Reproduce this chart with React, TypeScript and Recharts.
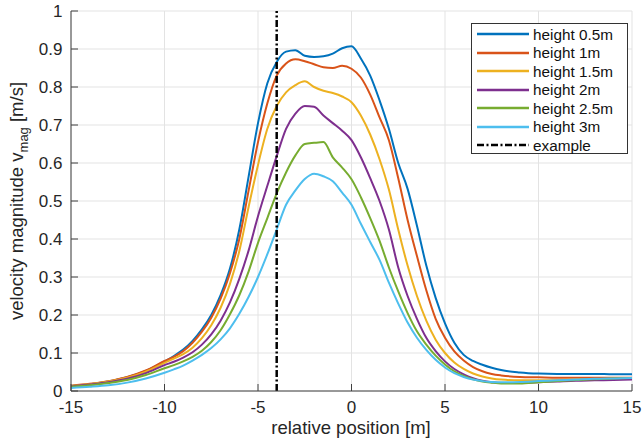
import { LineChart, Line, XAxis, YAxis, CartesianGrid, ReferenceLine, Legend } from "recharts"

const position = [
  -15, -14, -13, -12, -11, -10,
  -9.5, -9, -8.5, -8, -7.5, -7, -6.5, -6, -5.5, -5,
  -4.5, -4, -3.5, -3, -2.5, -2, -1.5, -1, -0.5, 0,
  0.5, 1, 1.5, 2, 2.5, 3, 3.5, 4, 4.5, 5,
  5.5, 6, 6.5, 7, 7.5, 8,
  9, 10, 11, 12, 13, 14, 15,
]

const height05 = [
  0.013, 0.018, 0.025, 0.036, 0.053, 0.078,
  0.092, 0.109, 0.132, 0.162, 0.2, 0.252, 0.322, 0.425, 0.565, 0.705,
  0.81, 0.866, 0.893, 0.897, 0.882, 0.879, 0.881, 0.888, 0.902, 0.907,
  0.875, 0.83, 0.765, 0.69, 0.6, 0.532, 0.435, 0.33, 0.245, 0.178,
  0.127, 0.095, 0.079, 0.069, 0.061, 0.055,
  0.049, 0.046, 0.045, 0.045, 0.045, 0.044, 0.044,
]

const height1 = [
  0.014, 0.019, 0.026, 0.037, 0.054, 0.079,
  0.09, 0.105, 0.127, 0.156, 0.193, 0.243, 0.31, 0.4, 0.528, 0.655,
  0.757, 0.83, 0.862, 0.873, 0.868, 0.86, 0.852, 0.85, 0.856, 0.848,
  0.825, 0.78, 0.72, 0.66, 0.56, 0.45, 0.355, 0.265, 0.19, 0.14,
  0.104, 0.08, 0.063, 0.052, 0.045, 0.041,
  0.037, 0.036, 0.035, 0.035, 0.035, 0.035, 0.035,
]

const height15 = [
  0.013, 0.018, 0.025, 0.035, 0.051, 0.074,
  0.085, 0.097, 0.114, 0.139, 0.173, 0.219, 0.282, 0.368, 0.485, 0.595,
  0.69, 0.75, 0.786, 0.805, 0.815, 0.8, 0.79, 0.784, 0.775, 0.76,
  0.725, 0.675, 0.61, 0.53, 0.425, 0.33, 0.25, 0.185, 0.135, 0.1,
  0.075, 0.058, 0.046, 0.038, 0.033, 0.03,
  0.028, 0.028, 0.029, 0.03, 0.031, 0.032, 0.032,
]

const height2 = [
  0.012, 0.017, 0.023, 0.032, 0.047, 0.068,
  0.077, 0.088, 0.102, 0.122, 0.149, 0.185, 0.233, 0.295, 0.37, 0.46,
  0.54, 0.618, 0.69, 0.73, 0.75, 0.748, 0.725, 0.705, 0.685, 0.66,
  0.615, 0.56, 0.5, 0.425, 0.325, 0.25, 0.19, 0.14, 0.105, 0.078,
  0.058, 0.044, 0.034, 0.027, 0.023, 0.021,
  0.021, 0.023, 0.025, 0.027, 0.028, 0.029, 0.03,
]

const height25 = [
  0.011, 0.015, 0.021, 0.029, 0.042, 0.06,
  0.068, 0.078, 0.09, 0.106, 0.129, 0.16, 0.202, 0.252, 0.315, 0.39,
  0.455, 0.52, 0.575, 0.62, 0.65, 0.653, 0.655, 0.615, 0.588, 0.557,
  0.51, 0.455, 0.395, 0.325, 0.262, 0.205, 0.157, 0.122, 0.093, 0.07,
  0.052, 0.04, 0.031, 0.025, 0.022, 0.02,
  0.02, 0.023, 0.026, 0.029, 0.031, 0.033, 0.034,
]

const height3 = [
  0.008, 0.011, 0.015, 0.022, 0.033, 0.048,
  0.057, 0.067, 0.08, 0.095, 0.113, 0.136, 0.165, 0.203, 0.248, 0.3,
  0.36, 0.425, 0.49, 0.528, 0.558, 0.572, 0.565, 0.552, 0.522, 0.49,
  0.44, 0.392, 0.345, 0.285, 0.23, 0.18, 0.14, 0.108, 0.082, 0.062,
  0.047, 0.037, 0.03, 0.026, 0.024, 0.023,
  0.024, 0.026, 0.028, 0.03, 0.032, 0.033, 0.034,
]

const seriesKeys = ["h05", "h1", "h15", "h2", "h25", "h3"]
const seriesNames = ["height 0.5m", "height 1m", "height 1.5m", "height 2m", "height 2.5m", "height 3m"]
const seriesColors = ["#0072BD", "#D95319", "#EDB120", "#7E2F8E", "#77AC30", "#4DBEEE"]
const seriesValues = [height05, height1, height15, height2, height25, height3]

const xTicks = [-15, -10, -5, 0, 5, 10, 15]
const yTicks = [0, 0.1, 0.2, 0.3, 0.4, 0.5, 0.6, 0.7, 0.8, 0.9, 1]
const examplePosition = -4

const data = position.map((x, i) => {
  const row: Record<string, number> = { x }
  seriesKeys.forEach((k, s) => {
    row[k] = seriesValues[s][i]
  })
  return row
})

const font = "'Liberation Sans', Arial, Helvetica, sans-serif"
const textColor = "#262626"
const axisColor = "#404040"

function VelocityLabel() {
  return (
    <text
      transform="translate(23, 201) rotate(-90)"
      textAnchor="middle"
      fontSize={18.5}
      fill={textColor}
      fontFamily={font}
    >
      velocity magnitude v
      <tspan dy={5} fontSize={13}>mag</tspan>
      <tspan dy={-5}> [m/s]</tspan>
    </text>
  )
}

function PositionLabel() {
  return (
    <text x={351} y={433.5} textAnchor="middle" fontSize={18.5} fill={textColor} fontFamily={font}>
      relative position [m]
    </text>
  )
}

function LegendBox() {
  const row = { height: 18.5, display: "flex", alignItems: "center" } as const
  return (
    <div
      style={{
        boxSizing: "border-box",
        width: 157,
        height: 131,
        border: "1px solid #333",
        background: "#fff",
        padding: "1px 0 0 5px",
        fontFamily: font,
        fontSize: 15.3,
        color: "#111",
        lineHeight: 1,
      }}
    >
      {seriesNames.map((name, i) => (
        <div key={name} style={row}>
          <svg width={52} height={4} style={{ display: "block" }}>
            <line x1={0} y1={2} x2={52} y2={2} stroke={seriesColors[i]} strokeWidth={2.5} />
          </svg>
          <span style={{ marginLeft: 4 }}>{name}</span>
        </div>
      ))}
      <div style={row}>
        <svg width={52} height={4} style={{ display: "block" }}>
          <line x1={0} y1={2} x2={52} y2={2} stroke="#000" strokeWidth={2.5} strokeDasharray="7 2.5 2 2.5" />
        </svg>
        <span style={{ marginLeft: 4 }}>example</span>
      </div>
    </div>
  )
}

export default function App() {
  return (
    <div style={{ position: "absolute", left: 0, top: 0, width: 643, height: 441, background: "#fff" }}>
      <LineChart width={643} height={441} data={data} margin={{ top: 11, right: 11, left: 0, bottom: 0 }}>
        <CartesianGrid stroke="#e3e3e3" />
        <XAxis
          dataKey="x"
          type="number"
          domain={[-15, 15]}
          ticks={xTicks}
          allowDataOverflow
          height={50}
          stroke={axisColor}
          tickSize={-7}
          tickMargin={16.5}
          tick={{ fill: textColor, fontSize: 17, fontFamily: font }}
          label={<PositionLabel />}
        />
        <XAxis
          xAxisId="top"
          dataKey="x"
          orientation="top"
          type="number"
          domain={[-15, 15]}
          ticks={xTicks}
          allowDataOverflow
          height={0}
          stroke={axisColor}
          tickSize={-7}
          tick={false}
        />
        <YAxis
          type="number"
          domain={[0, 1]}
          ticks={yTicks}
          allowDataOverflow
          width={71}
          stroke={axisColor}
          tickSize={-7}
          tickMargin={15.5}
          tick={{ fill: textColor, fontSize: 17, fontFamily: font }}
          label={<VelocityLabel />}
        />
        <YAxis
          yAxisId="right"
          orientation="right"
          type="number"
          domain={[0, 1]}
          ticks={yTicks}
          allowDataOverflow
          width={0}
          stroke={axisColor}
          tickSize={-7}
          tick={false}
        />
        {seriesKeys.map((k, i) => (
          <Line
            key={k}
            type="monotone"
            dataKey={k}
            name={seriesNames[i]}
            stroke={seriesColors[i]}
            strokeWidth={2}
            dot={false}
            isAnimationActive={false}
          />
        ))}
        <ReferenceLine x={examplePosition} stroke="#000" strokeWidth={2.5} strokeDasharray="7 2.5 2 2.5" />
        <Legend
          layout="vertical"
          align="center"
          verticalAlign="middle"
          content={() => <LegendBox />}
          wrapperStyle={{ left: 471, top: 23, width: 157, height: 131 }}
        />
      </LineChart>
    </div>
  )
}
